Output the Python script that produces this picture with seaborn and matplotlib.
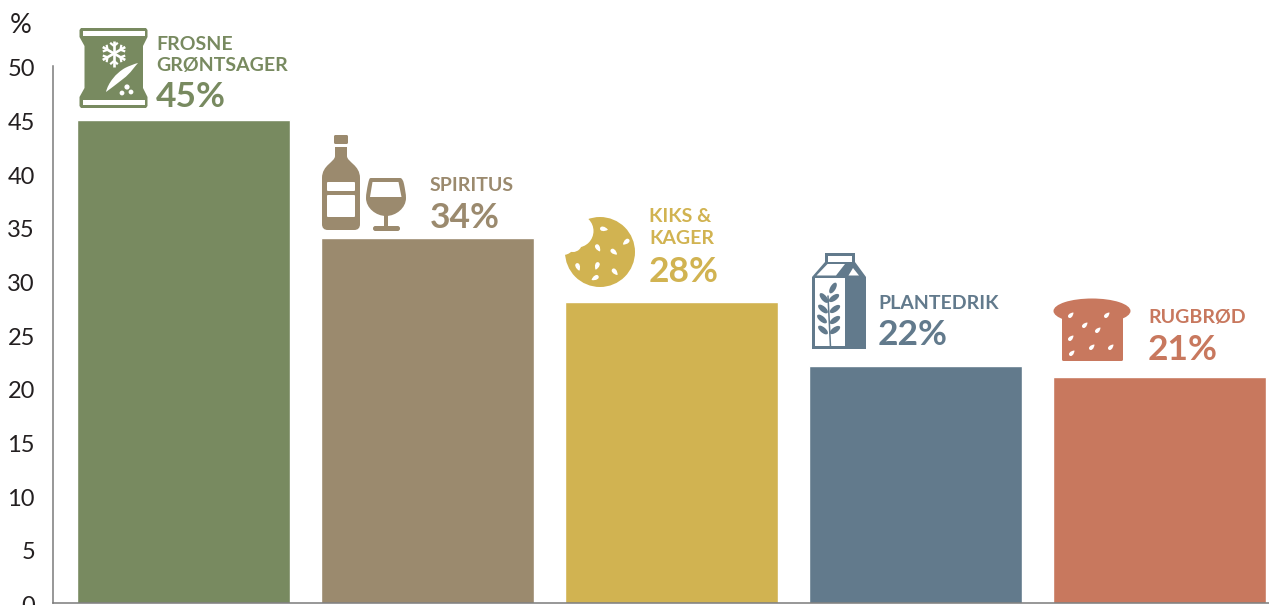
import numpy as np
import pandas as pd
import matplotlib
matplotlib.use("Agg")
import matplotlib.pyplot as plt
import seaborn as sns
from matplotlib.patches import Circle, Ellipse, FancyBboxPatch, PathPatch, Polygon, Rectangle
from matplotlib.path import Path
from matplotlib.transforms import ScaledTranslation

categories = ["FROSNE GRØNTSAGER", "SPIRITUS", "KIKS & KAGER", "PLANTEDRIK", "RUGBRØD"]
label_lines = [["FROSNE", "GRØNTSAGER"], ["SPIRITUS"], ["KIKS &", "KAGER"], ["PLANTEDRIK"], ["RUGBRØD"]]
shares = [45, 34, 28, 22, 21]
bar_colors = ["#788A60", "#9B8A6E", "#D1B351", "#627A8C", "#C8785E"]
y_ticks = [0, 5, 10, 15, 20, 25, 30, 35, 40, 45, 50]

W, H = 1269, 605
sns.set_theme(style="white")
plt.rcParams["font.family"] = ["Lato", "DejaVu Sans"]

fig = plt.figure(figsize=(W / 100, H / 100), dpi=100)
ax = fig.add_axes([53 / W, (H - 602.5) / H, (W - 53) / W, 536.5 / H])

df = pd.DataFrame({"category": categories, "share": shares})
sns.barplot(data=df, x="category", y="share", hue="category", palette=bar_colors,
            saturation=1, width=0.871, dodge=False, legend=False, ax=ax)
ax.set_xlim(-0.535, 4.449)
ax.set_ylim(0, 50)
ax.set_xlabel("")
ax.set_ylabel("")
ax.set_xticks([])
ax.set_yticks(y_ticks)
ax.tick_params(axis="y", length=0, pad=13, labelsize=17, labelcolor="#231F20")
first_tick = ax.yaxis.get_major_ticks()[0]
first_tick.tick1line.set_markersize(2)
first_tick.tick1line.set_markeredgewidth(1.1)
first_tick.tick1line.set_markeredgecolor("#6E6E6E")
sns.despine(ax=ax)
for side in ("left", "bottom"):
    ax.spines[side].set_color("#7A7A7A")
    ax.spines[side].set_linewidth(1.1)

# The tick numbers sit slightly below their nominal positions
label_shift = ScaledTranslation(0, -0.02, fig.dpi_scale_trans)
for tick_label in ax.get_yticklabels():
    tick_label.set_transform(tick_label.get_transform() + label_shift)

# Overlay in pixel units for the captions and pictograms
ov = fig.add_axes([0, 0, 1, 1], zorder=5)
ov.set_xlim(0, W)
ov.set_ylim(H, 0)
ov.axis("off")
ov.patch.set_alpha(0)

ov.text(10, 33, "%", fontsize=19.5, color="#231F20", va="baseline")


def caption(i, x, baselines, value_baseline):
    color = bar_colors[i]
    for line, base in zip(label_lines[i], baselines):
        ov.text(x, base, line, fontsize=14, fontweight="bold", color=color,
                va="baseline", ha="left")
    ov.text(x, value_baseline, f"{shares[i]}%", fontsize=25.5, fontweight="bold",
            color=color, va="baseline", ha="left")


caption(0, 156, [50, 71], 107)
caption(1, 430, [191], 228)
caption(2, 649, [222, 244], 282)
caption(3, 878, [309], 345)
caption(4, 1148, [323], 360)


def add_poly(points, color, z=6):
    ov.add_patch(Polygon(points, closed=True, facecolor=color, edgecolor="none", zorder=z))


def add_box(x, y, w, h, color, r=1.5, z=6):
    ov.add_patch(FancyBboxPatch((x + r, y + r), w - 2 * r, h - 2 * r,
                                boxstyle=f"round,pad={r},rounding_size={r}",
                                facecolor=color, edgecolor="none", zorder=z))


def seed(x, y, angle, size=4.0, color="white", z=8):
    # Small teardrop, tip pointing along the given angle
    t = np.radians(angle)
    rot = np.array([[np.cos(t), -np.sin(t)], [np.sin(t), np.cos(t)]])
    verts = np.array([[size, 0], [0.2 * size, -0.75 * size], [-size, -0.75 * size], [-size, 0],
                      [-size, 0.75 * size], [0.2 * size, 0.75 * size], [size, 0]])
    verts = verts @ rot.T + [x, y]
    codes = [Path.MOVETO] + [Path.CURVE4] * 6
    ov.add_patch(PathPatch(Path(verts, codes), facecolor=color, edgecolor="none", zorder=z))


# Frozen vegetable bag
c = bar_colors[0]
add_poly([(79.5, 30), (81, 28), (146, 28), (147.5, 30), (147.5, 37), (143, 46), (143, 88),
          (147.5, 97), (147.5, 106), (146, 108), (81, 108), (79.5, 106), (79.5, 97),
          (84.5, 88), (84.5, 46), (79.5, 37)], c)
ov.add_patch(Rectangle((82.5, 31), 62, 5, facecolor="white", edgecolor="none", zorder=7))
ov.add_patch(Rectangle((82.5, 100), 62, 5, facecolor="white", edgecolor="none", zorder=7))
cx, cy = 114, 53.5
for a in (90, 30, 150):
    t = np.radians(a)
    ov.plot([cx - 13 * np.cos(t), cx + 13 * np.cos(t)], [cy - 13 * np.sin(t), cy + 13 * np.sin(t)],
            color="white", lw=1.9, zorder=8, solid_capstyle="butt")
for a in range(30, 390, 60):
    t = np.radians(a)
    bx, by = cx + 7.5 * np.cos(t), cy + 7.5 * np.sin(t)
    for d in (-50, 50):
        s = t + np.radians(d)
        ov.plot([bx, bx + 5 * np.cos(s)], [by, by + 5 * np.sin(s)], color="white", lw=1.6,
                zorder=8, solid_capstyle="butt")
pod = Path([(106, 92), (108, 83), (116, 73), (125, 68), (129, 66), (134, 64), (138, 63),
            (135, 66), (131, 73), (123, 79), (117, 84), (111, 88), (106, 92)],
           [Path.MOVETO] + [Path.CURVE4] * 12)
ov.add_patch(PathPatch(pod, facecolor="white", edgecolor="none", zorder=8))
for dx, dy, r in [(122, 93, 2.4), (127, 87, 2.6), (131, 92, 2.4)]:
    ov.add_patch(Circle((dx, dy), r, facecolor="white", edgecolor="none", zorder=8))

# Bottle and glass
c = bar_colors[1]
add_box(334, 135, 14, 9, c)
bottle = Path([(335, 147), (347, 147), (347, 156), (347, 162), (360, 165), (360, 178),
               (360, 224), (360, 228), (358, 230), (354, 230), (328, 230), (324, 230),
               (322, 228), (322, 224), (322, 178), (322, 165), (335, 162), (335, 156),
               (335, 147)],
              [Path.MOVETO, Path.LINETO, Path.LINETO, Path.CURVE4, Path.CURVE4, Path.CURVE4,
               Path.LINETO, Path.CURVE4, Path.CURVE4, Path.CURVE4, Path.LINETO, Path.CURVE4,
               Path.CURVE4, Path.CURVE4, Path.LINETO, Path.CURVE4, Path.CURVE4, Path.CURVE4,
               Path.LINETO])
ov.add_patch(PathPatch(bottle, facecolor=c, edgecolor="none", zorder=6))
add_box(327, 182, 28, 9, "white", r=1, z=7)
add_box(327, 195, 28, 22, "white", r=1, z=7)
bowl = Path([(371, 178), (400, 178), (402, 178), (403, 180), (404, 184), (405, 189), (406, 194),
             (406, 198), (406, 208), (396, 216), (386, 216), (376, 216), (366, 208), (366, 198),
             (366, 194), (367, 189), (368, 184), (369, 180), (369, 178), (371, 178)],
            [Path.MOVETO, Path.LINETO] + [Path.CURVE4] * 18)
ov.add_patch(PathPatch(bowl, facecolor=c, edgecolor="none", zorder=6))
add_poly([(372.5, 182), (398.5, 182), (401.5, 197), (370, 197)], "white", z=7)
ov.add_patch(Rectangle((384, 214), 4, 13, facecolor=c, edgecolor="none", zorder=6))
add_box(373, 226, 27, 5, c, r=2.4)

# Bitten biscuit
c = bar_colors[2]
ov.add_patch(Circle((600, 252), 35, facecolor=c, edgecolor="none", zorder=6))
for bx, by, r in [(577, 231, 16.5), (573, 243, 9), (563, 243, 12)]:
    ov.add_patch(Circle((bx, by), r, facecolor="white", edgecolor="none", zorder=7))
for sx, sy, a in [(604, 229, 10), (626, 242, 140), (598, 248, 60), (614, 252, 40),
                  (578, 267, 70), (597, 266, 110), (615, 272, 50), (595, 278, 150)]:
    seed(sx, sy, a)

# Plant drink carton
c = bar_colors[3]
add_poly([(825, 253), (855, 253), (855, 262), (866, 277), (866, 349), (812, 349), (812, 277), (825, 262)], c)
ov.add_patch(Rectangle((828, 256), 24, 5.5, facecolor="white", edgecolor="none", zorder=7))
add_poly([(827.5, 264), (845, 264), (836, 275.5), (816.5, 275.5)], "white", z=7)
add_poly([(853, 268), (859, 275.5), (848.5, 275.5)], "white", z=7)
ov.add_patch(Rectangle((815, 278), 30, 68, facecolor="white", edgecolor="none", zorder=7))
ov.plot([830.5, 828], [347, 296], color=c, lw=1.1, zorder=8)
for lx, ly, a in [(833, 288, -60), (824, 298, 50), (834, 298, -35), (823, 309, 40), (835, 309, -35),
                  (822, 319, 40), (835, 320, -35), (823, 330, 40), (835, 330, -35)]:
    ov.add_patch(Ellipse((lx, ly), 12, 5.5, angle=a, facecolor=c, edgecolor="none", zorder=8))

# Rye loaf
c = bar_colors[4]
ov.add_patch(Ellipse((1092, 311), 77, 25, facecolor=c, edgecolor="none", zorder=6))
add_box(1062, 316, 61, 45, c, r=1.5)
for sx, sy, a in [(1071, 315, -45), (1107, 315, -45), (1085, 325, -45), (1098, 330, -45),
                  (1071, 338, -45), (1092, 347, -45), (1111, 347, -45), (1072, 353, -45)]:
    seed(sx, sy, a, size=3.5)

fig.savefig("out.png", dpi=100)
